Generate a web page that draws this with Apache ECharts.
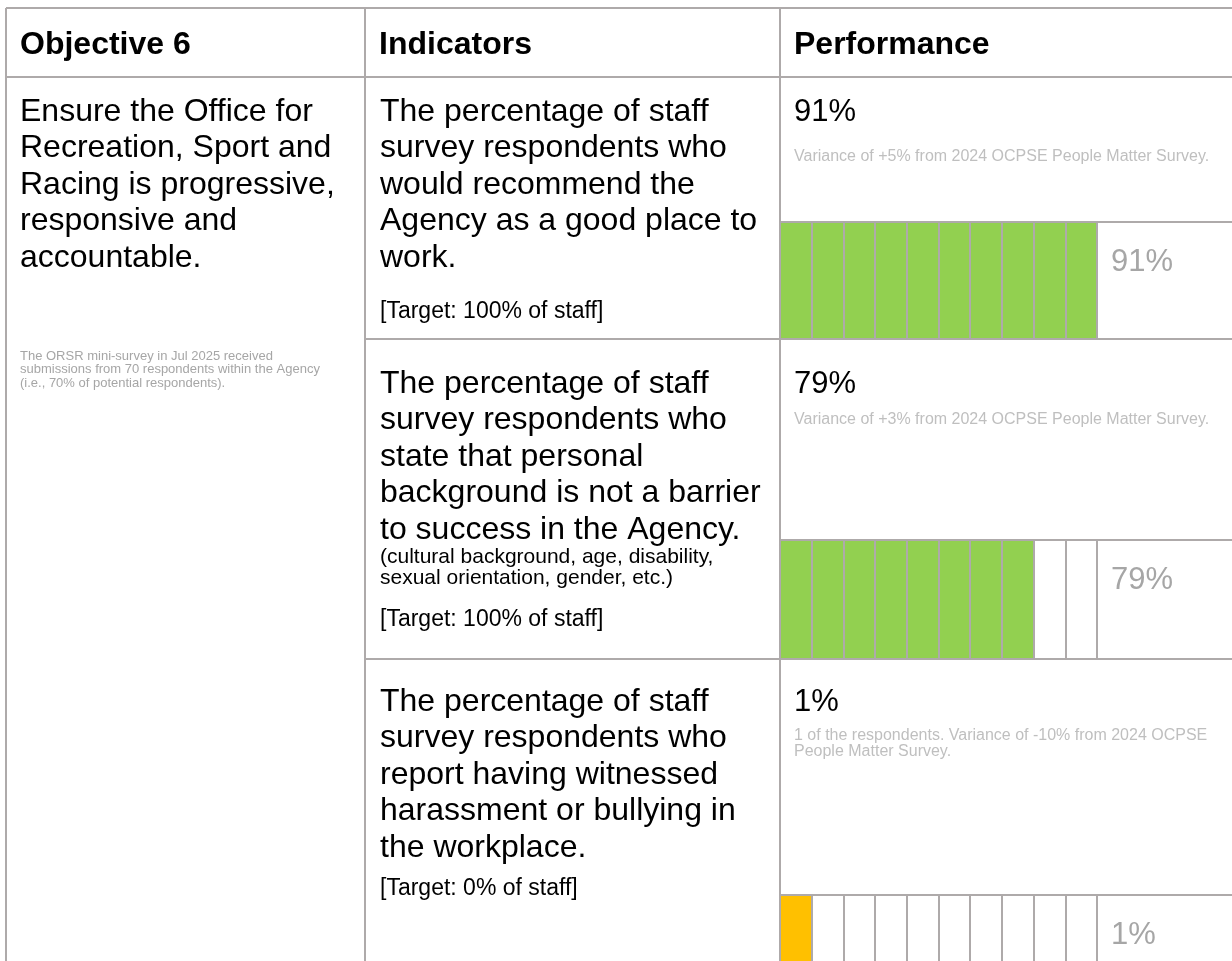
<!DOCTYPE html>
<html>
<head>
<meta charset="utf-8">
<script src="https://cdn.jsdelivr.net/npm/echarts@6/dist/echarts.min.js"></script>
<style>
  html, body { margin: 0; padding: 0; background: #fff; }
  #main { width: 1232px; height: 961px; }
</style>
</head>
<body>
<div id="main"></div>
<script>
// values
var headers = ['Objective 6', 'Indicators', 'Performance'];
var results = [91, 79, 1];                 // % shown
var filledCells = [10, 8, 1];              // coloured cells out of 10
var cellColors = ['#92D050', '#92D050', '#FFC000'];
var variances = [
    ['Variance of +5% from 2024 OCPSE People Matter Survey.'],
    ['Variance of +3% from 2024 OCPSE People Matter Survey.'],
    ['1 of the respondents. Variance of -10% from 2024 OCPSE', 'People Matter Survey.']
];
var indicatorLines = [
    ['The percentage of staff', 'survey respondents who', 'would recommend the', 'Agency as a good place to', 'work.'],
    ['The percentage of staff', 'survey respondents who', 'state that personal', 'background is not a barrier', 'to success in the Agency.'],
    ['The percentage of staff', 'survey respondents who', 'report having witnessed', 'harassment or bullying in', 'the workplace.']
];
var targets = ['[Target: 100% of staff]', '[Target: 100% of staff]', '[Target: 0% of staff]'];
var objectiveLines = ['Ensure the Office for', 'Recreation, Sport and', 'Racing is progressive,', 'responsive and', 'accountable.'];
var noteLines = ['The ORSR mini-survey in Jul 2025 received', 'submissions from 70 respondents within the Agency', '(i.e., 70% of potential respondents).'];

var FONT = "'Liberation Sans', Arial, sans-serif";
var LINE = '#AEAAAA';
var W = 1232, H = 961;
var colX = [6, 365, 780];
var rowTop = [77, 339, 659];
var barTop = [222, 540, 895];
var rowBottom = [339, 659, 1012];
var firstLineY = [112, 384, 702];
var varianceY = [157, 420, 736];
var targetY = [312, 620, 889];
var barRight = 1097;

function txt(x, y, lines, size, color, weight, lh) {
    lh = lh || size * 1.15;
    return {
        type: 'text', silent: true, z: 10,
        style: {
            x: x, y: y - lh / 2,
            text: lines.join('\n'),
            font: (weight || 'normal') + ' ' + size + 'px ' + FONT,
            fill: color, lineHeight: lh,
            align: 'left', verticalAlign: 'top'
        }
    };
}
function ln(x1, y1, x2, y2) {
    return { type: 'line', silent: true, z: 5,
        shape: { x1: x1, y1: y1, x2: x2, y2: y2 },
        style: { stroke: LINE, lineWidth: 2 } };
}

var graphic = [];
// table frame
graphic.push(ln(colX[0], 8, W, 8));
graphic.push(ln(colX[0], rowTop[0], W, rowTop[0]));
graphic.push(ln(colX[0], 8, colX[0], H));
graphic.push(ln(colX[1], 8, colX[1], H));
graphic.push(ln(colX[2], 8, colX[2], H));
graphic.push(ln(colX[1], rowTop[1], W, rowTop[1]));
graphic.push(ln(colX[1], rowTop[2], W, rowTop[2]));
barTop.forEach(function (y) { graphic.push(ln(colX[2], y, W, y)); });

// header
headers.forEach(function (h, i) {
    graphic.push(txt(colX[i] + 14, 45, [h], 32, '#000', 'bold'));
});
// objective column
graphic.push(txt(20, 112, objectiveLines, 32, '#000', 'normal', 36.5));
graphic.push(txt(20, 356, noteLines, 13, '#A6A6A6', 'normal', 13.5));

// indicator + performance rows
for (var i = 0; i < 3; i++) {
    graphic.push(txt(380, firstLineY[i], indicatorLines[i], 32, '#000', 'normal', 36.5));
    graphic.push(txt(794, firstLineY[i], [results[i] + '%'], 31, '#000'));
    graphic.push(txt(794, varianceY[i], variances[i], 16, '#BFBFBF', 'normal', 16));
    graphic.push(txt(380, targetY[i], [targets[i]], 23, '#000'));
    graphic.push(txt(1111, barTop[i] + 40, [results[i] + '%'], 31, '#A6A6A6'));
}
graphic.push(txt(380, 557, ['(cultural background, age, disability,', 'sexual orientation, gender, etc.)'], 21, '#000', 'normal', 21));

// one grid per indicator: 10 cells of 10%
var grids = [], xAxes = [], yAxes = [], series = [];
for (var k = 0; k < 3; k++) {
    grids.push({ left: colX[2], width: barRight - colX[2], top: barTop[k], height: rowBottom[k] - barTop[k] });
    xAxes.push({
        type: 'value', gridIndex: k, min: 0, max: 10, interval: 1, z: 6,
        axisLine: { show: false }, axisTick: { show: false }, axisLabel: { show: false },
        splitLine: { show: true, showMinLine: true, showMaxLine: true, lineStyle: { color: LINE, width: 2 } }
    });
    yAxes.push({ type: 'category', gridIndex: k, data: ['cells'], show: false });
    series.push({
        type: 'bar', xAxisIndex: k, yAxisIndex: k, barWidth: '100%', silent: true,
        itemStyle: { color: cellColors[k] },
        data: [filledCells[k]]
    });
}

var chart = echarts.init(document.getElementById('main'), null, { renderer: 'canvas' });
chart.setOption({
    animation: false,
    grid: grids, xAxis: xAxes, yAxis: yAxes, series: series,
    graphic: graphic
});
</script>
</body>
</html>
